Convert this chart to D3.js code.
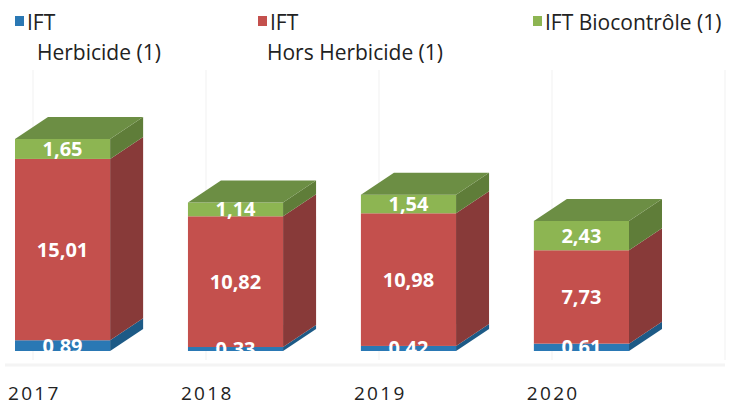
<!DOCTYPE html>
<html>
<head>
<meta charset="utf-8">
<script src="https://cdn.jsdelivr.net/npm/d3@7"></script>
<style>
  body { margin: 0; background: #fff; }
  svg { display: block; }
  text { font-family: "Open Sans", sans-serif; }
</style>
</head>
<body>
<div class="container"></div>
<script>
var years = ['2017', '2018', '2019', '2020'];
var herbicide = [0.89, 0.33, 0.42, 0.61];
var horsHerbicide = [15.01, 10.82, 10.98, 7.73];
var biocontrole = [1.65, 1.14, 1.54, 2.43];
var seriesNames = ['IFT\nHerbicide (1)', 'IFT\nHors Herbicide (1)', 'IFT Biocontrôle (1)'];

const WIDTH = 729, HEIGHT = 405;
const DX = 33, DY = -22;
const BASE = 351;

// front, side, top colours for each serie
var colours = [
    {front: '#2a78b4', side: '#1d5a86', top: '#2f6f9e'},
    {front: '#c4504d', side: '#883a39', top: '#9c4341'},
    {front: '#8db552', side: '#5f7d39', top: '#6c8e44'}
];

var fmt = function (v) { return v.toFixed(2).replace('.', ','); };

var loadChart = function () {
    var svg = d3.select('.container').append('svg')
        .attr('width', WIDTH).attr('height', HEIGHT);

    var xScale = d3.scaleBand().domain(years).range([15, 629])
        .paddingInner(0.45).paddingOuter(0).align(0);
    var yScale = d3.scaleLinear().domain([0, 20]).range([BASE, BASE - 20 * 12.08]);

    // faint back wall separators
    var sep = [0, 1, 2, 3, 4].map(function (i) { return 33 + i * 173; });
    svg.selectAll('.sep').data(sep).enter().append('line')
        .attr('x1', function (d) { return d; }).attr('x2', function (d) { return d; })
        .attr('y1', 70).attr('y2', 360)
        .attr('stroke', '#f6f6f6').attr('stroke-width', 1.5);
    svg.append('line').attr('x1', 5).attr('x2', 725).attr('y1', 365).attr('y2', 365)
        .attr('stroke', '#f4f4f4').attr('stroke-width', 3);

    var stacked = d3.stack().keys([0, 1, 2])(years.map(function (y, i) {
        return [herbicide[i], horsHerbicide[i], biocontrole[i]];
    }));

    svg.append('clipPath').attr('id', 'floor').append('rect')
        .attr('x', 0).attr('y', 0).attr('width', WIDTH).attr('height', BASE);

    var legOffset = [22, 9];

    years.forEach(function (year, i) {
        var x0 = xScale(year), w = xScale.bandwidth();
        var g = svg.append('g');
        stacked.forEach(function (layer, s) {
            var yb = yScale(layer[i][0]), yt = yScale(layer[i][1]);
            var c = colours[s];
            g.append('rect').attr('x', x0).attr('y', yt)
                .attr('width', w).attr('height', yb - yt).attr('fill', c.front);
            g.append('path').attr('fill', c.side)
                .attr('d', 'M' + (x0 + w) + ',' + yb + 'L' + (x0 + w + DX) + ',' + (yb + DY) +
                    'L' + (x0 + w + DX) + ',' + (yt + DY) + 'L' + (x0 + w) + ',' + yt + 'Z');
            if (s === stacked.length - 1) {
                g.append('path').attr('fill', c.top)
                    .attr('d', 'M' + x0 + ',' + yt + 'L' + (x0 + DX) + ',' + (yt + DY) +
                        'L' + (x0 + w + DX) + ',' + (yt + DY) + 'L' + (x0 + w) + ',' + yt + 'Z');
            }
        });
        stacked.forEach(function (layer, s) {
            var v = layer[i][1] - layer[i][0];
            var ym = (yScale(layer[i][0]) + yScale(layer[i][1])) / 2;
            g.append('text').attr('clip-path', 'url(#floor)')
                .attr('x', x0 + w / 2).attr('y', ym + 7)
                .attr('text-anchor', 'middle').attr('fill', '#fff')
                .attr('font-size', 20).attr('font-weight', 'bold')
                .text(fmt(v));
        });
        svg.append('text').attr('x', x0 - 7).attr('y', 400)
            .attr('font-size', 19).attr('letter-spacing', 2.3).attr('fill', '#222')
            .text(year);
    });

    // legend
    var legX = [15, 258, 533];
    seriesNames.forEach(function (name, s) {
        var lg = svg.append('g');
        lg.append('rect').attr('x', legX[s]).attr('y', 16).attr('width', 9).attr('height', 10)
            .attr('fill', colours[s].front);
        var lines = name.split('\n');
        lines.forEach(function (ln, k) {
            lg.append('text').attr('x', k === 0 ? legX[s] + 12 : legX[s] + legOffset[s])
                .attr('y', 30 + k * 30).attr('font-size', 21).attr('fill', '#222')
                .text(ln);
        });
    });
};

window.onload = loadChart;
</script>
</body>
</html>
